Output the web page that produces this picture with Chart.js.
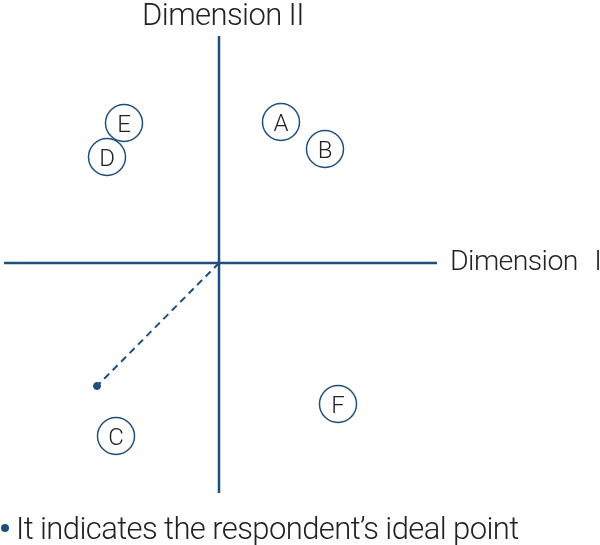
<!DOCTYPE html>
<html>
<head>
<meta charset="utf-8">
<script src="https://cdn.jsdelivr.net/npm/chart.js@4"></script>
<style>
  body { margin: 0; background: #fff; }
  #wrap { width: 600px; height: 545px; }
</style>
</head>
<body>
<div id="wrap"><canvas id="mapChart" width="600" height="545"></canvas></div>
<script>
// brands on the perceptual map
const brandLabels = ["A", "B", "C", "D", "E", "F"];
const dim1Values = [0.62, 1.06, -1.03, -1.12, -0.95, 1.19];
const dim2Values = [1.41, 1.14, -1.73, 1.06, 1.40, -1.41];
// respondent's ideal point
const idealPoint = [-1.22, -1.23];
// extent of the drawn axes
const dim1Range = [-2.15, 2.18];
const dim2Range = [-2.30, 2.27];
const axisTitles = ["Dimension I", "Dimension II"];
const footnote = "It indicates the respondent\u2019s ideal point";

const navy = "#1f4e7d";
const textColor = "#222";
const family = "Roboto, 'Open Sans', sans-serif";

const labelsPlugin = {
    id: "mapLabels",
    afterDatasetsDraw(chart) {
        const c = chart.ctx;
        const x = chart.scales.x, y = chart.scales.y;
        c.save();
        c.fillStyle = textColor;
        c.textBaseline = "alphabetic";

        // letters inside circles
        c.font = "300 24px " + family;
        c.textAlign = "center";
        brandLabels.forEach((lab, i) => {
            c.fillText(lab, x.getPixelForValue(dim1Values[i]), y.getPixelForValue(dim2Values[i]) + 9);
        });

        // axis titles
        c.letterSpacing = "-0.6px";
        c.font = "300 28.5px " + family;
        c.wordSpacing = "10px";
        c.textAlign = "left";
        c.fillText(axisTitles[0], x.getPixelForValue(dim1Range[1]) + 13, y.getPixelForValue(0) + 7);
        c.font = "300 31px " + family;
        c.wordSpacing = "0px";
        c.textAlign = "center";
        c.fillText(axisTitles[1], x.getPixelForValue(0) + 4, y.getPixelForValue(dim2Range[1]) - 11);

        // footnote
        c.textAlign = "left";
        c.fillStyle = navy;
        c.beginPath();
        c.arc(5, 528, 4, 0, Math.PI * 2);
        c.fill();
        c.fillStyle = textColor;
        c.fillText(footnote, 16, 539);
        c.restore();
    }
};

new Chart(document.getElementById("mapChart"), {
    type: "scatter",
    data: {
        datasets: [
            {
                type: "line",
                data: [{ x: dim1Range[0], y: 0 }, { x: dim1Range[1], y: 0 }],
                borderColor: navy, borderWidth: 2.5, pointRadius: 0
            },
            {
                type: "line",
                data: [{ x: 0, y: dim2Range[0] }, { x: 0, y: dim2Range[1] }],
                borderColor: navy, borderWidth: 2.5, pointRadius: 0
            },
            {
                type: "line",
                data: [{ x: 0, y: 0 }, { x: idealPoint[0], y: idealPoint[1] }],
                borderColor: navy, borderWidth: 2, borderDash: [7, 5], pointRadius: 0
            },
            {
                data: [{ x: idealPoint[0], y: idealPoint[1] }],
                backgroundColor: navy, borderColor: navy, pointRadius: 3.5
            },
            {
                data: brandLabels.map((l, i) => ({ x: dim1Values[i], y: dim2Values[i] })),
                backgroundColor: "#fff", borderColor: navy, borderWidth: 1.5, pointRadius: 18.5
            }
        ]
    },
    options: {
        responsive: false,
        animation: false,
        layout: { padding: 0, autoPadding: false },
        plugins: { legend: { display: false }, tooltip: { enabled: false } },
        scales: {
            x: { type: "linear", min: -2.19, max: 3.81, display: false },
            y: { type: "linear", min: -2.82, max: 2.63, display: false }
        }
    },
    plugins: [labelsPlugin]
});
</script>
</body>
</html>
